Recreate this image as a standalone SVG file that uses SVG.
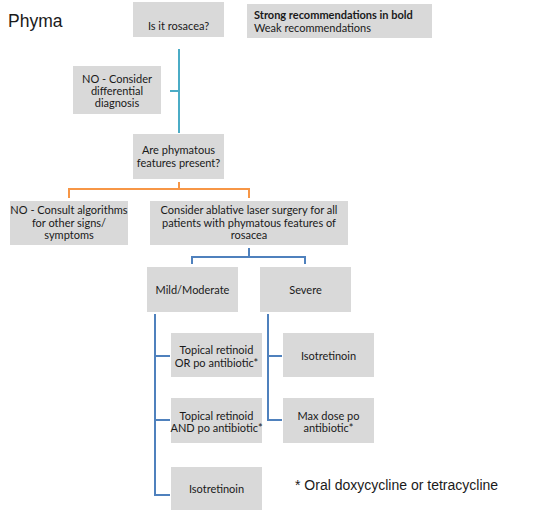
<svg xmlns="http://www.w3.org/2000/svg" width="539" height="513" viewBox="0 0 539 513">
<style>
.box{fill:#d9d9d9;}
.t{font-family:Lato,"Liberation Sans",sans-serif;font-size:11px;fill:#1a1a1a;text-anchor:middle;}
.lg{font-family:Lato,"Liberation Sans",sans-serif;font-size:11px;fill:#1a1a1a;}
.teal{stroke:#4bacc6;stroke-width:2;fill:none;}
.orange{stroke:#f79646;stroke-width:2;fill:none;}
.blue{stroke:#4f81bd;stroke-width:2;fill:none;}
</style>
<rect width="539" height="513" fill="#ffffff"/>
<text x="8" y="27" font-family="'Liberation Sans',Arial,sans-serif" font-size="17.5" fill="#1a1a1a">Phyma</text>
<g id="connectors">
<path class="teal" d="M179,49 V133 M170,91 H179"/>
<path class="orange" d="M179,182 V189 M69,198 V189 H249 V198"/>
<path class="blue" d="M249,248 V257 M192,264 V257 H305 V264"/>
<path class="blue" d="M155,314 V495 H170 M155,356 H170 M155,420 H170"/>
<path class="blue" d="M268,314 V420 H282 M268,356 H282"/>
</g>
<g id="legend">
<rect class="box" x="247" y="4" width="185" height="34"/>
<text class="lg" x="254" y="18.5" font-weight="bold">Strong recommendations in bold</text>
<text class="lg" x="254" y="32">Weak recommendations</text>
</g>
<g id="n-rosacea">
<rect class="box" x="133" y="2" width="91" height="35"/>
<text class="t" x="178.5" y="30">Is it rosacea?</text>
</g>
<g id="n-differential">
<rect class="box" x="73" y="66" width="88" height="48"/>
<text class="t" x="117" y="83">NO - Consider</text>
<text class="t" x="117" y="95">differential</text>
<text class="t" x="117" y="107">diagnosis</text>
</g>
<g id="n-phymatous">
<rect class="box" x="133" y="134" width="91" height="45"/>
<text class="t" x="178.5" y="154">Are phymatous</text>
<text class="t" x="178.5" y="167">features present?</text>
</g>
<g id="n-consult">
<rect class="box" x="10" y="201" width="118" height="44"/>
<text class="t" x="69" y="214">NO - Consult algorithms</text>
<text class="t" x="69" y="226.5">for other signs/</text>
<text class="t" x="69" y="239">symptoms</text>
</g>
<g id="n-laser">
<rect class="box" x="150" y="201" width="198" height="44"/>
<text class="t" x="249" y="214">Consider ablative laser surgery for all</text>
<text class="t" x="249" y="226.5">patients with phymatous features of</text>
<text class="t" x="249" y="239">rosacea</text>
</g>
<g id="n-mild">
<rect class="box" x="147" y="267" width="91" height="45"/>
<text class="t" x="192.5" y="294">Mild/Moderate</text>
</g>
<g id="n-severe">
<rect class="box" x="260" y="267" width="91" height="45"/>
<text class="t" x="305.5" y="294">Severe</text>
</g>
<g id="n-topical-or">
<rect class="box" x="171" y="333" width="91" height="44"/>
<text class="t" x="216.5" y="354">Topical retinoid</text>
<text class="t" x="216.5" y="367">OR po antibiotic*</text>
</g>
<g id="n-topical-and">
<rect class="box" x="171" y="398" width="91" height="45"/>
<text class="t" x="216.5" y="420">Topical retinoid</text>
<text class="t" x="216.5" y="432">AND po antibiotic*</text>
</g>
<g id="n-iso-left">
<rect class="box" x="171" y="467" width="91" height="43"/>
<text class="t" x="216.5" y="493">Isotretinoin</text>
</g>
<g id="n-iso-right">
<rect class="box" x="283" y="333" width="91" height="44"/>
<text class="t" x="328.5" y="360">Isotretinoin</text>
</g>
<g id="n-maxdose">
<rect class="box" x="283" y="398" width="91" height="45"/>
<text class="t" x="328.5" y="420">Max dose po</text>
<text class="t" x="328.5" y="432">antibiotic*</text>
</g>
<text x="295" y="490" font-family="'Liberation Sans',Arial,sans-serif" font-size="14" fill="#1a1a1a">* Oral doxycycline or tetracycline</text>
</svg>
